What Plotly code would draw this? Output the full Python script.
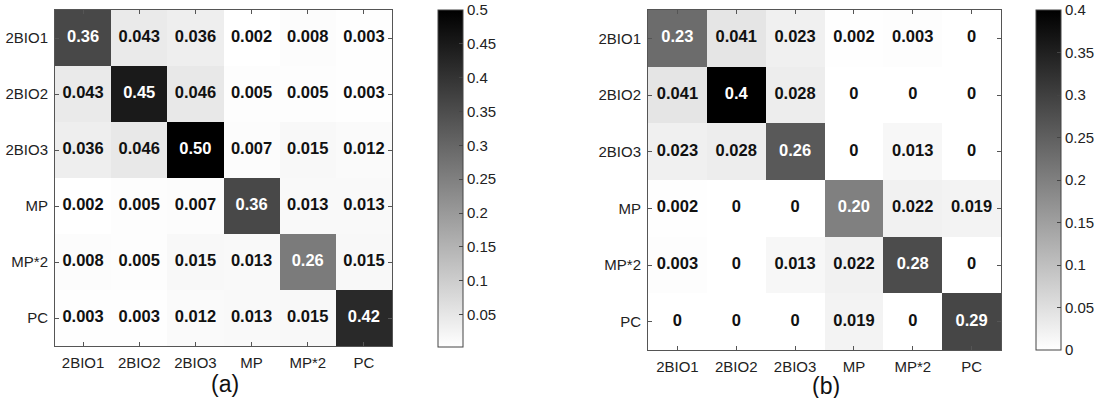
import plotly.graph_objects as go

labels = ["2BIO1", "2BIO2", "2BIO3", "MP", "MP*2", "PC"]

values_a = [
    [0.36, 0.043, 0.036, 0.002, 0.008, 0.003],
    [0.043, 0.45, 0.046, 0.005, 0.005, 0.003],
    [0.036, 0.046, 0.50, 0.007, 0.015, 0.012],
    [0.002, 0.005, 0.007, 0.36, 0.013, 0.013],
    [0.008, 0.005, 0.015, 0.013, 0.26, 0.015],
    [0.003, 0.003, 0.012, 0.013, 0.015, 0.42],
]
text_a = [
    ["0.36", "0.043", "0.036", "0.002", "0.008", "0.003"],
    ["0.043", "0.45", "0.046", "0.005", "0.005", "0.003"],
    ["0.036", "0.046", "0.50", "0.007", "0.015", "0.012"],
    ["0.002", "0.005", "0.007", "0.36", "0.013", "0.013"],
    ["0.008", "0.005", "0.015", "0.013", "0.26", "0.015"],
    ["0.003", "0.003", "0.012", "0.013", "0.015", "0.42"],
]

values_b = [
    [0.23, 0.041, 0.023, 0.002, 0.003, 0.0],
    [0.041, 0.40, 0.028, 0.0, 0.0, 0.0],
    [0.023, 0.028, 0.26, 0.0, 0.013, 0.0],
    [0.002, 0.0, 0.0, 0.20, 0.022, 0.019],
    [0.003, 0.0, 0.013, 0.022, 0.28, 0.0],
    [0.0, 0.0, 0.0, 0.019, 0.0, 0.29],
]
text_b = [
    ["0.23", "0.041", "0.023", "0.002", "0.003", "0"],
    ["0.041", "0.4", "0.028", "0", "0", "0"],
    ["0.023", "0.028", "0.26", "0", "0.013", "0"],
    ["0.002", "0", "0", "0.20", "0.022", "0.019"],
    ["0.003", "0", "0.013", "0.022", "0.28", "0"],
    ["0", "0", "0", "0.019", "0", "0.29"],
]

cbar_ticks_a = [0.05, 0.1, 0.15, 0.2, 0.25, 0.3, 0.35, 0.4, 0.45, 0.5]
cbar_ticks_b = [0, 0.05, 0.1, 0.15, 0.2, 0.25, 0.3, 0.35, 0.4]
panel_titles = ["(a)", "(b)"]

W, H = 1101, 398
FONT = "Liberation Sans, Arial, Helvetica, sans-serif"
gray_scale = [[0, "#ffffff"], [1, "#000000"]]

def px_x(p):
    return p / W

def px_y(p):
    return 1 - p / H

fig = go.Figure()

panels = [
    dict(vals=values_a, txt=text_a, ticks=cbar_ticks_a, zmin=0.002, zmax=0.5,
         cbx=438, cby0=10, cby1=347, xa="x", ya="y"),
    dict(vals=values_b, txt=text_b, ticks=cbar_ticks_b, zmin=0.0, zmax=0.4,
         cbx=1036, cby0=10, cby1=350, xa="x2", ya="y2"),
]

for p in panels:
    fig.add_trace(go.Heatmap(
        z=p["vals"], x=labels, y=labels,
        colorscale=gray_scale, zmin=p["zmin"], zmax=p["zmax"],
        xaxis=p["xa"], yaxis=p["ya"], hoverinfo="skip",
        colorbar=dict(
            x=px_x(p["cbx"]), xanchor="left", xpad=0,
            y=px_y(p["cby0"]), yanchor="top", ypad=0,
            len=p["cby1"] - p["cby0"], lenmode="pixels",
            thickness=25, thicknessmode="pixels",
            outlinecolor="#444444", outlinewidth=1,
            tickvals=p["ticks"], ticks="inside", ticklen=4,
            tickcolor="#444444",
            tickfont=dict(family=FONT, size=15, color="#222222"),
        ),
    ))
    xs, ys, ts, cs = [], [], [], []
    for r, row in enumerate(p["vals"]):
        for c, v in enumerate(row):
            xs.append(labels[c])
            ys.append(labels[r])
            ts.append(p["txt"][r][c])
            cs.append("#ffffff" if r == c else "#111111")
    fig.add_trace(go.Scatter(
        x=xs, y=ys, text=ts, mode="text",
        textfont=dict(family=FONT, size=16.5, color=cs, weight="bold"),
        xaxis=p["xa"], yaxis=p["ya"], hoverinfo="skip", showlegend=False,
    ))

axis_common = dict(
    type="category", showgrid=False, zeroline=False,
    showline=True, linecolor="#555555", linewidth=1, mirror="allticks",
    ticks="inside", ticklen=4, tickcolor="#555555",
    ticklabelstandoff=3,
    tickfont=dict(family=FONT, size=15, color="#222222"),
)

fig.update_layout(
    width=W, height=H,
    margin=dict(l=0, r=0, t=0, b=0),
    paper_bgcolor="white", plot_bgcolor="white",
    showlegend=False,
    xaxis=dict(domain=[px_x(55), px_x(392)], anchor="y", **axis_common),
    yaxis=dict(domain=[px_y(346), px_y(10)], anchor="x", autorange="reversed", **axis_common),
    xaxis2=dict(domain=[px_x(648), px_x(1001)], anchor="y2", **axis_common),
    yaxis2=dict(domain=[px_y(350), px_y(10)], anchor="x2", autorange="reversed", **axis_common),
    annotations=[
        dict(text=panel_titles[0], x=px_x(225), y=px_y(384), xref="paper", yref="paper",
             xanchor="center", yanchor="middle",
             showarrow=False, font=dict(family=FONT, size=23, color="#111111")),
        dict(text=panel_titles[1], x=px_x(826), y=px_y(386), xref="paper", yref="paper",
             xanchor="center", yanchor="middle",
             showarrow=False, font=dict(family=FONT, size=23, color="#111111")),
    ],
)

fig.write_html("out.html")
